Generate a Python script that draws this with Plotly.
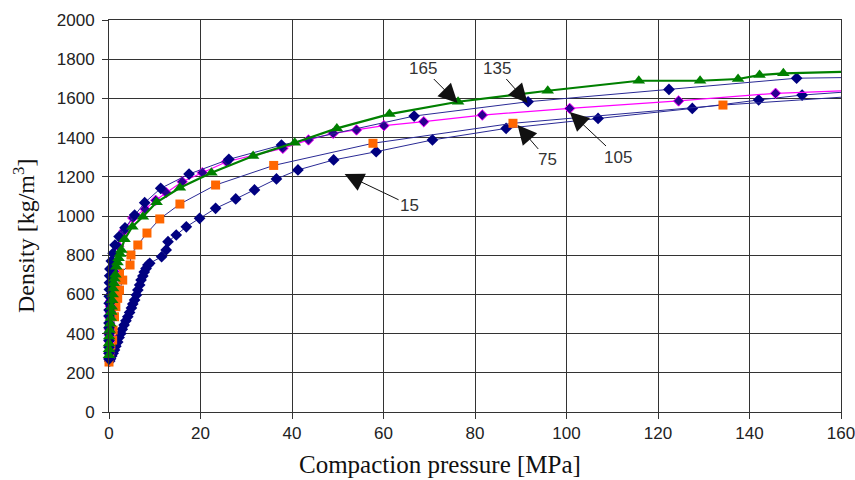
import plotly.graph_objects as go

# Density vs. compaction pressure for five test series (labels 15 ... 165)
p15 = [0.15, 0.35, 0.6, 0.9, 1.2, 1.5, 1.9, 2.2, 2.6, 2.9, 3.3, 3.7, 4.1, 4.5, 4.9, 5.2,
       5.6, 6.0, 6.3, 6.7, 7.0, 7.4, 7.7, 8.1, 8.5, 8.9, 11.5, 12.5,
       12.9, 14.7, 16.9, 19.8, 23.3, 27.7, 31.8, 36.6, 41.3, 49.1, 58.4, 70.7, 86.8,
       106.9, 127.5, 142.0, 151.5]
d15 = [260, 272, 286, 300, 316, 336, 357, 380, 401, 422, 444, 465, 486, 508, 531, 551,
       571, 597, 622, 648, 673, 694, 714, 732, 750, 759, 792, 827,
       869, 903, 945, 988, 1039, 1087, 1133, 1189, 1235, 1286, 1328, 1388, 1447,
       1498, 1549, 1592, 1617]
end15 = 1631

p75 = [0.0, 0.15, 0.4, 0.8, 0.9, 1.2, 1.5, 1.9, 2.3, 3.0, 2.3, 4.6, 4.8, 6.3, 8.3, 11.1,
       15.5, 23.3, 36.0, 57.7, 88.3, 134.2]
d75 = [255, 306, 342, 367, 418, 486, 537, 580, 622, 673, 708, 750, 801, 852, 913, 985,
       1061, 1158, 1258, 1371, 1473, 1566]
end75 = 1606

p105 = [0.0, 0.02, 0.05, 0.08, 0.1, 0.12, 0.15, 0.2, 0.25, 0.3, 0.4, 0.5, 0.6, 0.75, 0.9,
        1.1, 1.4, 2.1, 3.3, 5.2, 7.9, 10.2,
        12.5, 16.0, 20.4, 25.7, 38.0, 43.6, 49.0, 54.1, 60.1, 68.8, 81.6, 100.7, 124.5,
        145.7]
d105 = [275, 300, 330, 360, 390, 420, 450, 480, 510, 540, 570, 600, 630, 660, 690, 718,
        760, 845, 925, 990, 1035, 1080,
        1119, 1175, 1221, 1277, 1345, 1388, 1422, 1439, 1461, 1481, 1515, 1549, 1587,
        1626]
end105 = 1638

p135 = [0.0, 0.0, 0.0, 0.0, 0.0, 0.0, 0.0, 0.0, 0.02, 0.04, 0.05, 0.08, 0.1, 0.15, 0.2,
        0.5, 0.9, 1.3, 2.2, 3.5, 5.6, 7.8, 11.3,
        17.5, 26.2, 37.7, 66.7, 91.6, 122.4, 150.3]
d135 = [270, 300, 330, 365, 400, 430, 454, 490, 520, 555, 590, 625, 660, 695, 730,
        770, 810, 852, 895, 940, 1005, 1068, 1141,
        1214, 1289, 1362, 1510, 1583, 1646, 1703]
end135 = 1706

p165 = [0.0, 0.0, 0.0, 0.05, 0.15, 0.3, 0.4, 0.5, 0.6, 0.7, 0.8, 0.9, 1.05, 1.2, 1.4,
        1.6, 1.85, 2.1, 2.4, 2.7, 3.4, 5.1, 7.4, 10.4,
        15.5, 22.4, 31.5, 40.6, 49.8, 61.3, 76.3, 95.9, 115.8, 129.2, 137.5, 142.2,
        147.4]
d165 = [290, 320, 350, 385, 418, 450, 480, 510, 537, 570, 600, 630, 657, 680, 700,
        741, 763, 785, 806, 827, 881, 945, 996, 1070,
        1144, 1221, 1306, 1374, 1447, 1520, 1583, 1639, 1690, 1690, 1699, 1719, 1728]
end165 = 1735

P_MAX = 160

# Callout labels: (text, label x, label y, arrow tip x, arrow tip y)
callouts = [
    ("165", 68.6, 1755, 76.2, 1577),
    ("135", 84.7, 1755, 91.5, 1577),
    ("75", 95.9, 1286, 89.3, 1464),
    ("105", 111.2, 1301, 100.7, 1531),
    ("15", 65.7, 1056, 51.5, 1214),
]

NAVY = "#000080"
fig = go.Figure()


def add_series(p, d, end, line_color, line_width, symbol, size, fill, edge, edge_w=0):
    # connecting curve runs on to the right-hand end of the axis
    fig.add_trace(go.Scatter(
        x=p + [P_MAX], y=d + [end], mode="lines",
        line=dict(color=line_color, width=line_width),
        hoverinfo="skip", showlegend=False))
    fig.add_trace(go.Scatter(
        x=p, y=d, mode="markers", cliponaxis=False,
        marker=dict(symbol=symbol, size=size, color=fill,
                    line=dict(color=edge, width=edge_w)),
        showlegend=False))


add_series(p15, d15, end15, "#2a2a95", 1, "diamond", 9, NAVY, NAVY)
add_series(p75, d75, end75, "#2a2a95", 1, "square", 9, "#FF6600", "#FF6600")
add_series(p105, d105, end105, "#FF00FF", 1.2, "diamond", 8, "#2a0090", "#FF00FF", 1)
add_series(p135, d135, end135, "#2a2a95", 1, "diamond", 9, NAVY, NAVY)
add_series(p165, d165, end165, "#008000", 2.2, "triangle-up", 11, "#008000", "#008000")

annotations = []
for text, lx, ly, tx, ty in callouts:
    annotations.append(dict(
        x=tx, y=ty, ax=lx, ay=ly, xref="x", yref="y", axref="x", ayref="y",
        text=text, showarrow=True, arrowhead=2, arrowsize=3.8, arrowwidth=1,
        arrowcolor="#111111",
        font=dict(family="Liberation Sans, Arial, sans-serif", size=17, color="#333333")))

# axis titles, positioned in pixels and converted to paper fractions below
annotations.append(dict(
    x=440, y=465, text="Compaction pressure [MPa]",
    showarrow=False, font=dict(family="Liberation Serif, Times New Roman, serif",
                               size=25, color="#111111")))
annotations.append(dict(
    x=24, y=236, text="Density [kg/m<sup>3</sup>]",
    textangle=-90, showarrow=False,
    font=dict(family="Liberation Serif, Times New Roman, serif", size=24, color="#111111")))

L, R, T, B, W, H = 109, 14, 20, 68, 855, 480
pw, ph = W - L - R, H - T - B
for a in annotations[-2:]:
    a["x"] = (a["x"] - L) / pw
    a["y"] = (H - B - a["y"]) / ph
    a.update(xref="paper", yref="paper", xanchor="center", yanchor="middle")

tick_font = dict(family="Liberation Sans, Arial, sans-serif", size=17, color="#222222")
axis_style = dict(showgrid=True, gridcolor="#333333", gridwidth=1, zeroline=False,
                  showline=True, linecolor="#333333", linewidth=1, mirror=True,
                  ticks="outside", ticklen=6, tickcolor="#333333", tickfont=tick_font,
                  ticklabeloverflow="allow", automargin=False)
fig.update_layout(
    width=W, height=H,
    margin=dict(l=L, r=R, t=T, b=B),
    paper_bgcolor="white", plot_bgcolor="white",
    annotations=annotations,
    xaxis=dict(range=[0, P_MAX], dtick=20, tick0=0, **axis_style),
    yaxis=dict(range=[0, 2000], dtick=200, tick0=0, ticklabelstandoff=4, **axis_style),
)

fig.write_html("out.html")
